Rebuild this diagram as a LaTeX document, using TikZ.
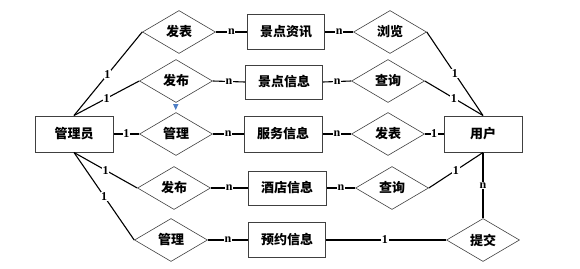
\documentclass[tikz,border=0pt]{standalone}
\usepackage{fontspec}
\setmainfont{Liberation Serif}
\newfontfamily\cjk{Noto Sans CJK SC}
\usetikzlibrary{shapes.geometric}
\definecolor{arrblue}{HTML}{4F7FC6}
\begin{document}
\begin{tikzpicture}[x=1pt,y=-1pt,
  ent/.style={draw=black!75, line width=1pt, fill=white, minimum width=77pt, minimum height=35pt, inner sep=0pt, font=\cjk\bfseries\fontsize{13}{13}\selectfont},
  rel/.style={draw=black!75, line width=0.6pt, shape=diamond, aspect=1.7, minimum width=73pt, minimum height=43pt, inner sep=0pt, font=\cjk\bfseries\fontsize{13}{13}\selectfont},
  ln/.style={line width=1.1pt, black},
  card/.style={fill=white, inner sep=0.6pt, font=\bfseries\fontsize{12}{12}\selectfont}]
\useasboundingbox (0,0) rectangle (580,268);
% entities
\node[ent, minimum width=78pt, minimum height=36pt] (gly) at (74,134) {管理员};
\node[ent, minimum width=78pt, minimum height=36pt] (yh) at (483,134) {用户};
\node[ent] (e1) at (286,32) {景点资讯};
\node[ent, minimum height=34pt] (e2) at (284,82) {景点信息};
\node[ent, minimum width=78pt, minimum height=36pt] (e3) at (283,134) {服务信息};
\node[ent, minimum width=78pt, minimum height=34pt] (e4) at (287,188) {酒店信息};
\node[ent] (e5) at (287,240) {预约信息};
% relations
\node[rel] (r1) at (179,32) {发表};
\node[rel] (r2) at (176,81) {发布};
\node[rel] (r3) at (176,134) {管理};
\node[rel] (r4) at (174,188) {发布};
\node[rel] (r5) at (171,240) {管理};
\node[rel] (s1) at (390,32) {浏览};
\node[rel] (s2) at (388,81) {查询};
\node[rel] (s3) at (388,134) {发表};
\node[rel] (s4) at (392,188) {查询};
\node[rel] (tj) at (483,240) {提交};
% blue mark
\fill[arrblue] (173,104) -- (178.5,104) -- (175.7,110) -- cycle;
% connectors
\draw[ln] (gly.north) -- node[card,pos=0.49]{1} (r1.west);
\draw[ln] (gly.north) -- node[card,pos=0.5]{1} (r2.west);
\draw[ln] (gly.east) -- node[card,pos=0.5]{1} (r3.west);
\draw[ln] (gly.south) -- node[card,pos=0.5]{1} (r4.west);
\draw[ln] (gly.south) -- node[card,pos=0.5]{1} (r5.west);
\draw[ln] (r1.east) -- node[card]{n} (e1.west);
\draw[ln] (r2.east) -- node[card]{n} (e2.west);
\draw[ln] (r3.east) -- node[card]{n} (e3.west);
\draw[ln] (r4.east) -- node[card]{n} (e4.west);
\draw[ln] (r5.east) -- node[card]{n} (e5.west);
\draw[ln] (e1.east) -- node[card]{n} (s1.west);
\draw[ln] (e2.east) -- node[card]{n} (s2.west);
\draw[ln] (e3.east) -- node[card]{n} (s3.west);
\draw[ln] (e4.east) -- node[card]{n} (s4.west);
\draw[ln] (e5.east) -- node[card,pos=0.49]{1} (tj.west);
\draw[ln] (s1.east) -- node[card]{1} (yh.north);
\draw[ln] (s2.east) -- node[card]{1} (yh.north);
\draw[ln] (s3.east) -- node[card]{1} (yh.west);
\draw[ln] (s4.east) -- node[card]{1} (yh.south);
\draw[ln] (yh.south) -- node[card]{n} (tj.north);
\end{tikzpicture}
\end{document}
